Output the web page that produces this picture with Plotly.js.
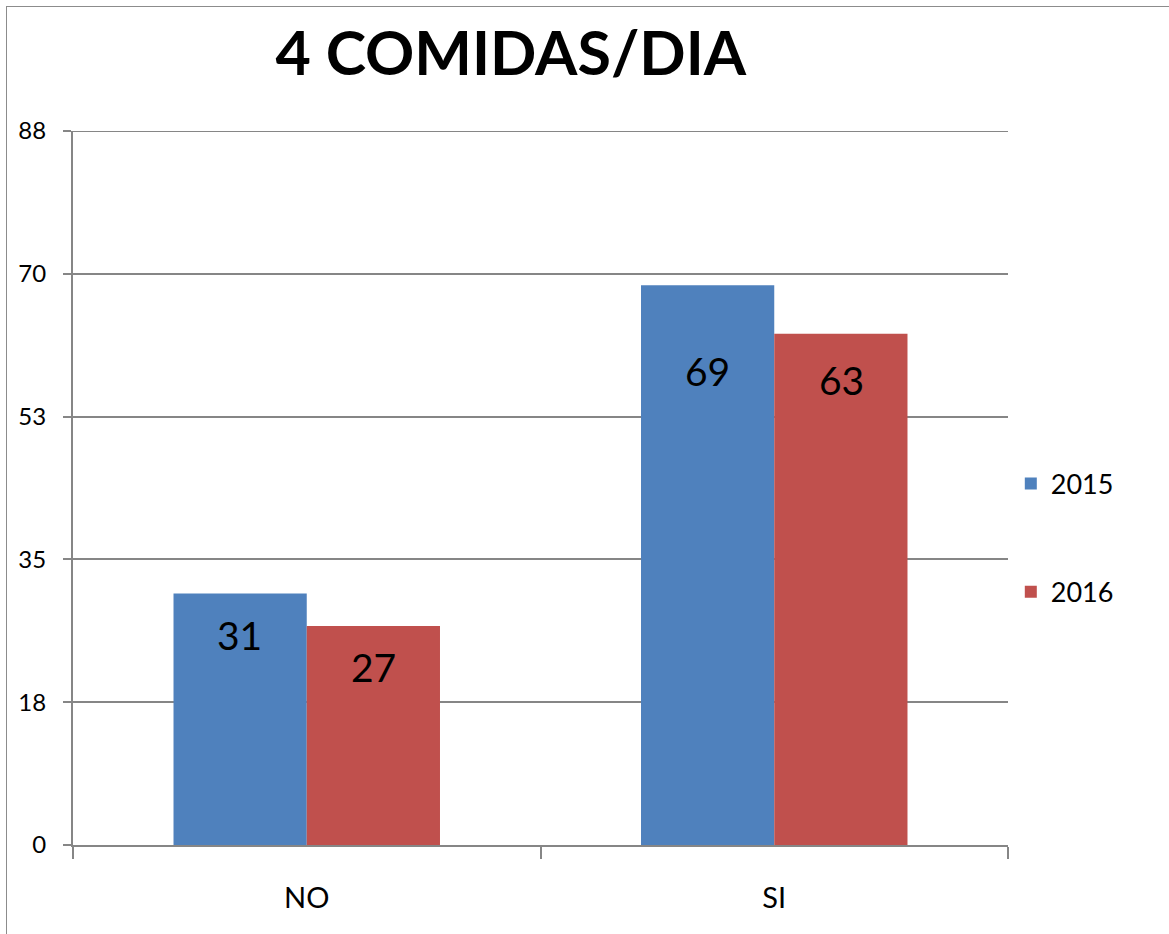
<!DOCTYPE html>
<html>
<head>
<meta charset="utf-8">
<script src="https://cdn.plot.ly/plotly-3.0.1.min.js"></script>
<style>
  html, body { margin: 0; padding: 0; background: #ffffff; }
  #wrap { position: relative; width: 1169px; height: 934px; }
  #chart { position: absolute; left: 0; top: 0; width: 1169px; height: 934px; }
  #frame {
    position: absolute; left: 6px; top: 6px; right: 0; bottom: 0;
    border-left: 1.5px solid #8c8c8c; border-top: 1.5px solid #8c8c8c;
    pointer-events: none;
  }
</style>
</head>
<body>
<div id="wrap">
  <div id="chart"></div>
  <div id="frame"></div>
</div>
<script>
// Respuestas por año
const categories = ['NO', 'SI'];
const series2015 = [31, 69];
const series2016 = [27, 63];
const seriesNames = ['2015', '2016'];
const yTickLabels = ['0', '18', '35', '53', '70', '88'];
const yMax = 88;

const blue = '#4F81BD';
const red = '#C0504D';
const gridGray = '#868686';
const fontFamily = 'Lato, "Open Sans", sans-serif';

// tick positions: five equal steps up to the axis maximum
const yTickVals = yTickLabels.map((_, i) => i * yMax / (yTickLabels.length - 1));

const traces = [
  {
    type: 'bar', name: seriesNames[0], x: categories, y: series2015,
    marker: { color: blue }, legendgroup: 'a', hoverinfo: 'y'
  },
  {
    type: 'bar', name: seriesNames[1], x: categories, y: series2016,
    marker: { color: red }, legendgroup: 'b', hoverinfo: 'y'
  }
];

// value labels sit inside each bar, a little under its top
const labelShift = [[-42, -86], [-41, -46]];
const groupOffset = [-67, 67];
const annotations = [];
[series2015, series2016].forEach((vals, s) => {
  vals.forEach((v, i) => {
    annotations.push({
      x: categories[i], y: v, xref: 'x', yref: 'y',
      text: String(v), showarrow: false,
      xshift: groupOffset[s], yshift: labelShift[s][i],
      yanchor: 'middle', xanchor: 'center',
      font: { family: fontFamily, size: 39, color: '#000000' }
    });
  });
});

// the top gridline sits on the range edge, so draw it explicitly
const shapes = [{
  type: 'line', xref: 'paper', yref: 'y',
  x0: 0, x1: 1, y0: yMax, y1: yMax,
  line: { color: gridGray, width: 2 }
}];

const layout = {
  width: 1169, height: 934,
  margin: { l: 73, r: 161, t: 131, b: 89, pad: 0 },
  paper_bgcolor: '#ffffff', plot_bgcolor: '#ffffff',
  font: { family: fontFamily, color: '#000000' },
  title: {
    text: '<b>4 COMIDAS/DIA</b>',
    font: { family: fontFamily, size: 61, color: '#000000' },
    x: 0.437, xref: 'container', xanchor: 'center',
    y: 0.943, yref: 'container', yanchor: 'middle'
  },
  barmode: 'group',
  bargap: 0.43,
  bargroupgap: 0,
  xaxis: {
    type: 'category',
    showgrid: false,
    showline: true, linecolor: gridGray, linewidth: 2,
    ticks: 'outside', tickson: 'boundaries', ticklen: 12,
    tickcolor: gridGray, tickwidth: 2,
    tickfont: { family: fontFamily, size: 29, color: '#000000' },
    ticklabelstandoff: 26,
    zeroline: false, fixedrange: true
  },
  yaxis: {
    range: [0, yMax],
    tickmode: 'array', tickvals: yTickVals, ticktext: yTickLabels,
    showgrid: true, gridcolor: gridGray, gridwidth: 2,
    showline: true, linecolor: gridGray, linewidth: 2,
    ticks: 'outside', ticklen: 8, tickcolor: gridGray, tickwidth: 2,
    tickfont: { family: fontFamily, size: 24, color: '#000000' },
    ticklabelstandoff: 12,
    zeroline: false, fixedrange: true
  },
  showlegend: true,
  legend: {
    x: 1.003, xanchor: 'left', y: 0.43, yanchor: 'middle',
    font: { family: fontFamily, size: 27, color: '#000000' },
    traceorder: 'grouped', tracegroupgap: 70,
    itemwidth: 30, bgcolor: 'rgba(0,0,0,0)'
  },
  shapes: shapes,
  annotations: annotations
};

Plotly.newPlot('chart', traces, layout, { displayModeBar: false, staticPlot: true });
</script>
</body>
</html>
